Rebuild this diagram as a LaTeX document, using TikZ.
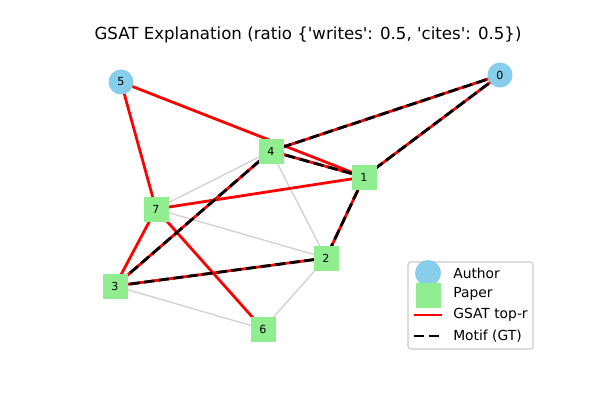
\documentclass[tikz,border=0pt]{standalone}
\usepackage{fontspec}
\newfontfamily\dv{DejaVu Sans}
\usetikzlibrary{calc}
\definecolor{authorc}{HTML}{87CEEB}
\definecolor{paperc}{HTML}{90EE90}
\definecolor{edgegray}{HTML}{D3D3D3}
\newlength{\pxu}
\setlength{\pxu}{0.01in}
\tikzset{
  author/.style={circle,fill=authorc,minimum size=25\pxu,inner sep=0pt,font=\dv\fontsize{8}{9}\selectfont},
  paper/.style={rectangle,fill=paperc,minimum size=25\pxu,inner sep=0pt,font=\dv\fontsize{8}{9}\selectfont},
  grayedge/.style={draw=edgegray,line width=1pt},
  rededge/.style={draw=red,line width=2pt},
  motifedge/.style={draw=black,line width=2pt,dash pattern=on 7.4pt off 3.2pt},
}
\begin{document}
\begin{tikzpicture}[x=0.01in,y=-0.01in]
\useasboundingbox[fill=white] (0,0) rectangle (600,400);
\node[font=\dv\fontsize{12}{14}\selectfont] (title) at (308,35) {GSAT Explanation (ratio \{'writes': 0.5, 'cites': 0.5\})};
% node coordinates
\coordinate (p0) at (500,75);
\coordinate (p1) at (364,177);
\coordinate (p2) at (326,258);
\coordinate (p3) at (115,286);
\coordinate (p4) at (271,151);
\coordinate (p5) at (121,82);
\coordinate (p6) at (263,329);
\coordinate (p7) at (156,209);
% gray edges
\draw[grayedge] (p4) -- (p7);
\draw[grayedge] (p4) -- (p2);
\draw[grayedge] (p7) -- (p2);
\draw[grayedge] (p1) -- (p2);
\draw[grayedge] (p2) -- (p6);
\draw[grayedge] (p3) -- (p6);
% red edges
\draw[rededge] (p5) -- (p7);
\draw[rededge] (p5) -- (p1);
\draw[rededge] (p7) -- (p1);
\draw[rededge] (p7) -- (p3);
\draw[rededge] (p7) -- (p6);
\draw[rededge] (p0) -- (p4);
\draw[rededge] (p0) -- (p1);
\draw[rededge] (p4) -- (p1);
\draw[rededge] (p4) -- (p3);
\draw[rededge] (p3) -- (p2);
\draw[rededge] (p1) -- (p2);
% motif edges
\draw[motifedge] (p0) -- (p4);
\draw[motifedge] (p0) -- (p1);
\draw[motifedge] (p4) -- (p1);
\draw[motifedge] (p4) -- (p3);
\draw[motifedge] (p3) -- (p2);
\draw[motifedge] (p1) -- (p2);
% nodes
\node[author] (n0) at (p0) {0};
\node[author] (n5) at (p5) {5};
\node[paper] (n1) at (p1) {1};
\node[paper] (n2) at (p2) {2};
\node[paper] (n3) at (p3) {3};
\node[paper] (n4) at (p4) {4};
\node[paper] (n6) at (p6) {6};
\node[paper] (n7) at (p7) {7};
% legend
\node[draw=black!20,rounded corners=2pt,line width=0.8pt,fill=white,minimum width=125\pxu,minimum height=87\pxu,inner sep=0pt] (legend) at (470.5,305.5) {};
\node[circle,fill=authorc,minimum size=26\pxu,inner sep=0pt] (la) at (428,273) {};
\node[rectangle,fill=paperc,minimum size=25\pxu,inner sep=0pt] (lp) at (428,295) {};
\coordinate (lr1) at (414,315);
\coordinate (lr2) at (442,315);
\draw[rededge] (lr1) -- (lr2);
\coordinate (lm1) at (414,336);
\coordinate (lm2) at (442,336);
\draw[motifedge] (lm1) -- (lm2);
\begin{scope}[every node/.style={anchor=west,font=\dv\fontsize{10}{12}\selectfont,inner sep=0pt}]
\node (ta) at (453,273) {Author};
\node (tp) at (453,294) {Paper};
\node (tr) at (453,315) {GSAT top-r};
\node (tm) at (453,336) {Motif (GT)};
\end{scope}
\end{tikzpicture}
\end{document}
